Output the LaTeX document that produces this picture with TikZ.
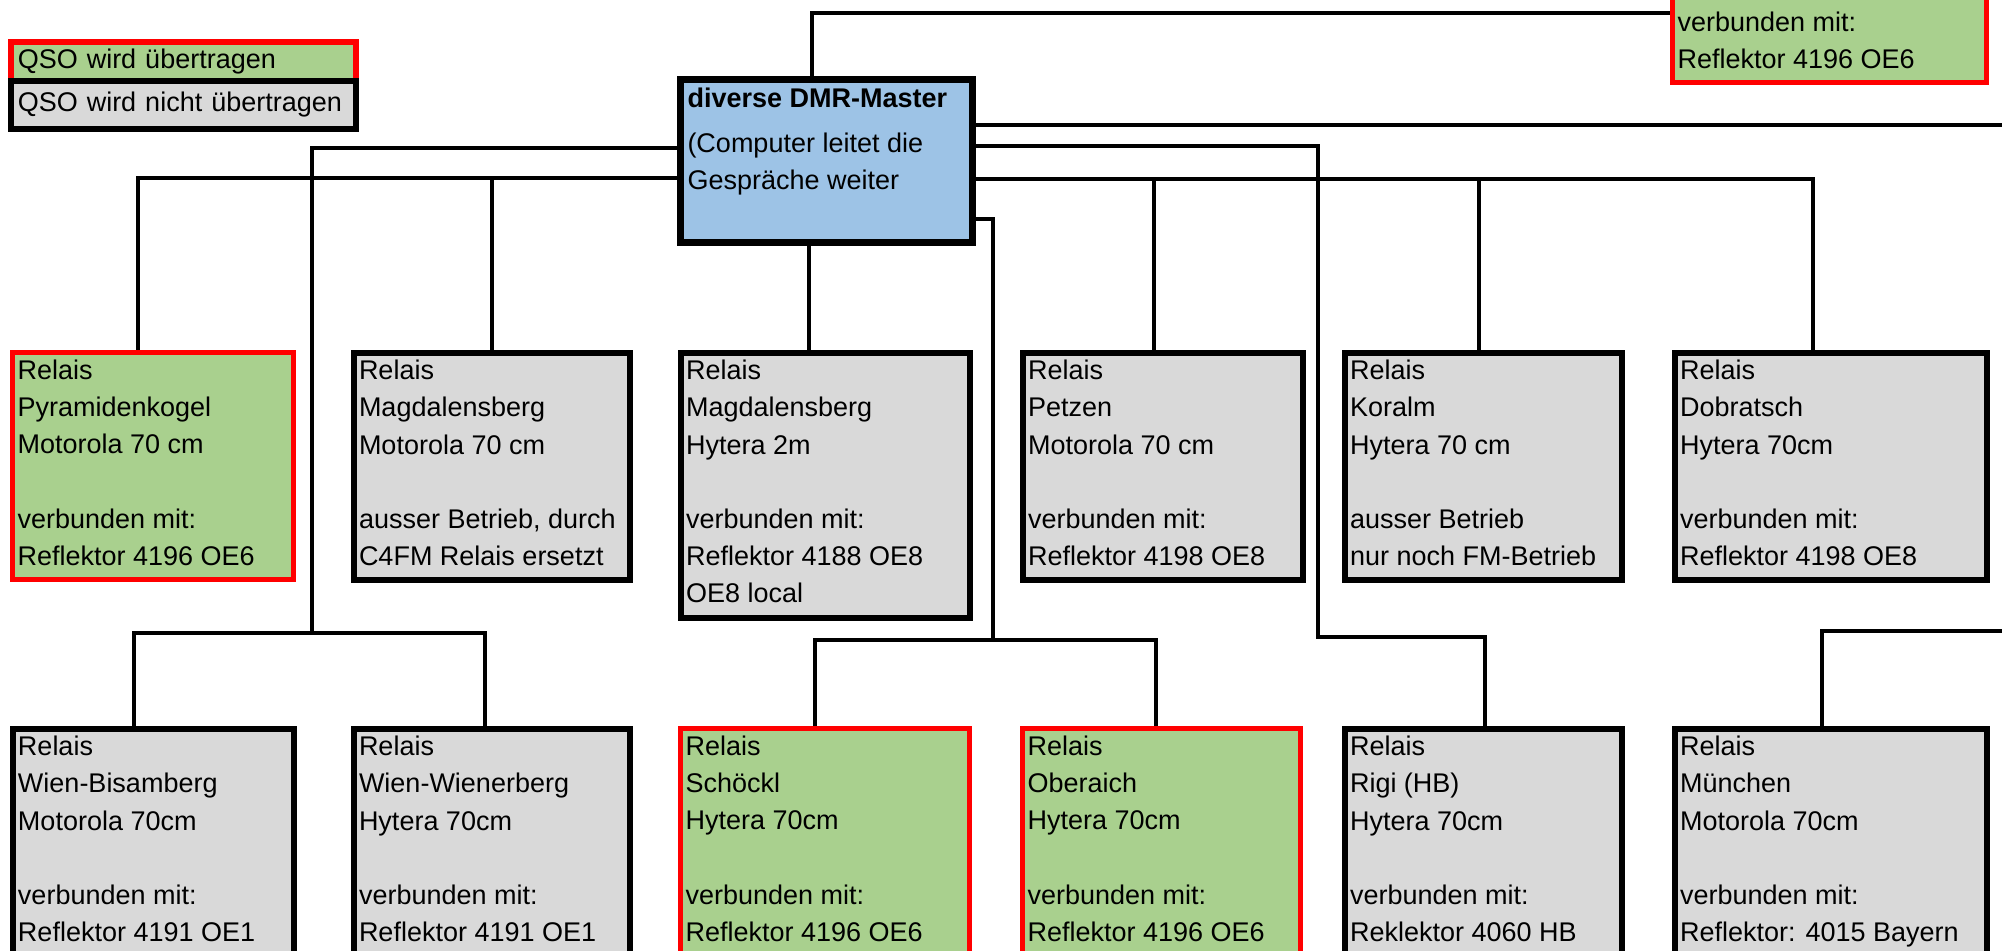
\documentclass[tikz,border=0pt]{standalone}
\usepackage{fontspec}
\setmainfont{Liberation Sans}
\usetikzlibrary{calc}
\definecolor{boxgreen}{HTML}{A9D08E}
\definecolor{boxgray}{HTML}{D9D9D9}
\definecolor{boxblue}{HTML}{9DC3E6}
\definecolor{boxred}{HTML}{FF0000}
\pgfdeclarelayer{bg}
\pgfsetlayers{bg,main}
\newcommand\relaistext[3]{\parbox[c][#2][t]{#1}{\rule{0pt}{13.3pt}#3}}
\begin{document}
\begin{tikzpicture}[x=0.5pt,y=-0.5pt,
  txt/.style={font=\fontsize{13.5}{18.6}\selectfont},
  relbox/.style={txt, rectangle, draw=black, line width=3pt, fill=boxgray, inner xsep=2.5pt, inner ysep=0pt, anchor=north west},
  okbox/.style={relbox, draw=boxred, fill=boxgreen, line width=2.6pt},
  masterbox/.style={txt, rectangle, draw=black, line width=3.5pt, fill=boxblue, inner xsep=3.5pt, inner ysep=0pt, anchor=north west},
  legbox/.style={txt, rectangle, line width=2.75pt, anchor=north west, minimum width=172.5pt, inner xsep=3.5pt, text width=165.5pt, align=left},
  conn/.style={draw=black, line width=2pt, line cap=rect, line join=miter}
]
\useasboundingbox (0,0) rectangle (2002,950);
\clip (0,0) rectangle (2002,950);

% legend
\node[legbox, draw=boxred, fill=boxgreen, minimum height=19.5pt] (leg1) at (8,39) {QSO wird übertragen};
\node[legbox, draw=black, fill=boxgray, minimum height=24pt] (leg2) at (8,78) {QSO wird nicht übertragen};

% master
\node[masterbox] (master) at (677,76) {\parbox[c][81.5pt][t]{139pt}{\rule{0pt}{14pt}\textbf{diverse DMR-Master}\\[3.9pt](Computer leitet die\\Gespräche weiter}};

% top right (partly off page)
\node[okbox] (tr) at (1670,-148) {\parbox[c][114pt][t]{152pt}{\rule{0pt}{88.2pt}verbunden mit:\\Reflektor 4196 OE6}};

% row 1
\node[okbox] (pyr) at (10,350) {\relaistext{135.5pt}{113.5pt}{Relais\\Pyramidenkogel\\Motorola 70 cm\\[18.6pt]verbunden mit:\\Reflektor 4196 OE6}};
\node[relbox] (mag1) at (351,350) {\relaistext{133pt}{113.5pt}{Relais\\Magdalensberg\\Motorola 70 cm\\[18.6pt]ausser Betrieb, durch\\C4FM Relais ersetzt}};
\node[relbox] (mag2) at (678,350) {\relaistext{139.5pt}{132.5pt}{Relais\\Magdalensberg\\Hytera 2m\\[18.6pt]verbunden mit:\\Reflektor 4188 OE8\\OE8 local}};
\node[relbox] (pet) at (1020,350) {\relaistext{135pt}{113.5pt}{Relais\\Petzen\\Motorola 70 cm\\[18.6pt]verbunden mit:\\Reflektor 4198 OE8}};
\node[relbox] (kor) at (1342,350) {\relaistext{133.5pt}{113.5pt}{Relais\\Koralm\\Hytera 70 cm\\[18.6pt]ausser Betrieb\\nur noch FM-Betrieb}};
\node[relbox] (dob) at (1672,350) {\relaistext{151pt}{113.5pt}{Relais\\Dobratsch\\Hytera 70cm\\[18.6pt]verbunden mit:\\Reflektor 4198 OE8}};

% row 2
\node[relbox] (wbis) at (10,726) {\relaistext{135.5pt}{120pt}{Relais\\Wien-Bisamberg\\Motorola 70cm\\[18.6pt]verbunden mit:\\Reflektor 4191 OE1}};
\node[relbox] (wwie) at (351,726) {\relaistext{133pt}{120pt}{Relais\\Wien-Wienerberg\\Hytera 70cm\\[18.6pt]verbunden mit:\\Reflektor 4191 OE1}};
\node[okbox] (sch) at (678,726) {\relaistext{139.5pt}{120pt}{Relais\\Schöckl\\Hytera 70cm\\[18.6pt]verbunden mit:\\Reflektor 4196 OE6}};
\node[okbox] (obe) at (1020,726) {\relaistext{134pt}{120pt}{Relais\\Oberaich\\Hytera 70cm\\[18.6pt]verbunden mit:\\Reflektor 4196 OE6}};
\node[relbox] (rigi) at (1342,726) {\relaistext{133.5pt}{120pt}{Relais\\Rigi (HB)\\Hytera 70cm\\[18.6pt]verbunden mit:\\Reklektor 4060 HB}};
\node[relbox] (mue) at (1672,726) {\relaistext{151pt}{120pt}{Relais\\München\\Motorola 70cm\\[18.6pt]verbunden mit:\\Reflektor: 4015 Bayern}};

% junction coordinates
\coordinate (kA) at (312,148);
\coordinate (kB) at (312,633);
\coordinate (kW1) at (134,633);
\coordinate (kW2) at (485,633);
\coordinate (kC) at (138,178);
\coordinate (kMag1) at (492,178);
\coordinate (kD) at (809,300);
\coordinate (kTop) at (812,13);
\coordinate (kR1) at (2014,125);
\coordinate (kR2) at (2014,631);
\coordinate (kMue) at (1822,631);
\coordinate (kR3) at (1318,146);
\coordinate (kR4) at (1318,637);
\coordinate (kRigi) at (1485,637);
\coordinate (kR5) at (1813,179);
\coordinate (kPet) at (1154,179);
\coordinate (kKor) at (1479,179);
\coordinate (kR6) at (993,219);
\coordinate (kR7) at (993,640);
\coordinate (kSch) at (815,640);
\coordinate (kObe) at (1156,640);

\begin{pgfonlayer}{bg}
\draw[conn] (master.west |- kA) -- (kA) -- (kB);
\draw[conn] (kW1 |- wbis.north) -- (kW1) -- (kW2) -- (kW2 |- wwie.north);
\draw[conn] (master.west |- kC) -- (kC) -- (kC |- pyr.north);
\draw[conn] (kMag1 |- mag1.north) -- (kMag1);
\draw[conn] (master.south -| kD) -- (mag2.north -| kD);
\draw[conn] (master.north -| kTop) -- (kTop) -- (tr.west |- kTop);
\draw[conn] (master.east |- kR1) -- (kR1) -- (kR2) -- (kMue) -- (kMue |- mue.north);
\draw[conn] (master.east |- kR3) -- (kR3) -- (kR4) -- (kRigi) -- (kRigi |- rigi.north);
\draw[conn] (master.east |- kR5) -- (kR5) -- (kR5 |- dob.north);
\draw[conn] (kPet) -- (kPet |- pet.north);
\draw[conn] (kKor) -- (kKor |- kor.north);
\draw[conn] (master.east |- kR6) -- (kR6) -- (kR7);
\draw[conn] (kSch |- sch.north) -- (kSch) -- (kObe) -- (kObe |- obe.north);
\end{pgfonlayer}
\end{tikzpicture}
\end{document}
